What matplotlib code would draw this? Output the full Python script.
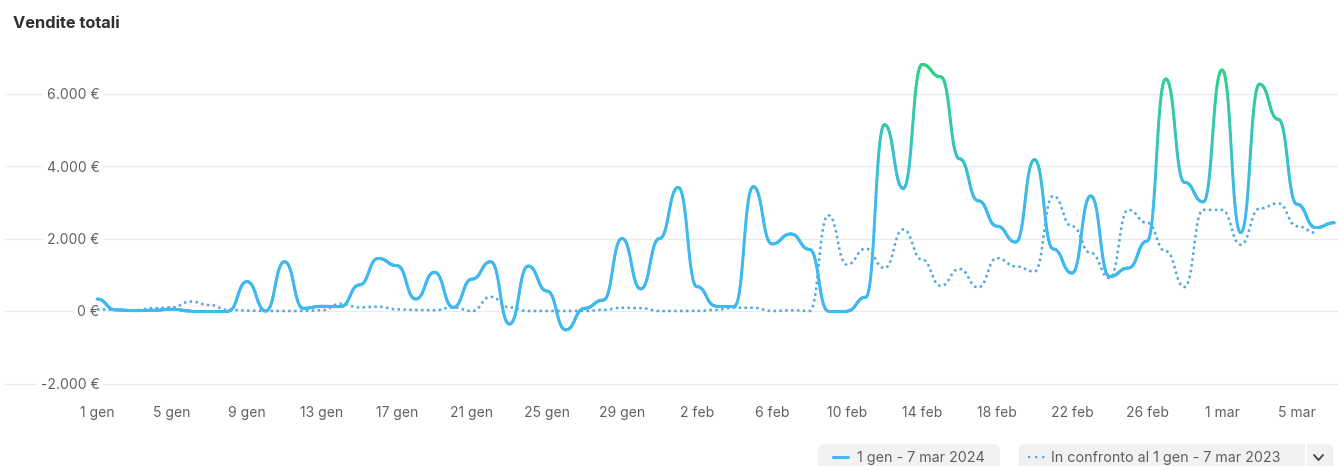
import numpy as np
import matplotlib
matplotlib.use('Agg')
import matplotlib.pyplot as plt
from matplotlib.collections import LineCollection
from matplotlib.patches import FancyBboxPatch

plt.rcParams['font.family'] = ['Inter', 'DejaVu Sans']

# daily total sales, 1 gen - 7 mar 2024 (67 days)
sales_2024 = [330, 30, 10, 20, 50, 0, 0, 0, 810, 0,
              1360, 75, 130, 120, 720, 1450, 1250, 330, 1070, 100,
              880, 1360, -360, 1240, 550, -520, 75, 300, 2000, 610,
              2000, 3410, 670, 140, 140, 3430, 1850, 2125, 1700, 0,
              0, 380, 5140, 3380, 6800, 6460, 4200, 3040, 2340, 1900,
              4175, 1710, 1045, 3175, 950, 1185, 1925, 6400, 3550, 3010,
              6650, 2160, 6260, 5290, 2945, 2300, 2435]

# comparison period, 1 gen - 7 mar 2023 (66 days)
sales_2023 = [46, 30, 20, 75, 100, 260, 165, 30, 10, 0,
              0, 0, 20, 200, 100, 120, 46, 30, 20, 100,
              0, 390, 100, 0, 0, 0, 0, 30, 90, 80,
              0, 0, 0, 30, 90, 90, 0, 20, 0, 2640,
              1280, 1720, 1185, 2250, 1420, 695, 1160, 650, 1460, 1230,
              1090, 3175, 2340, 1600, 910, 2790, 2435, 1650, 660, 2790,
              2790, 1830, 2825, 2970, 2340, 2160]

x_ticks = list(range(0, 67, 4))
x_labels = ['1 gen', '5 gen', '9 gen', '13 gen', '17 gen', '21 gen', '25 gen', '29 gen',
            '2 feb', '6 feb', '10 feb', '14 feb', '18 feb', '22 feb', '26 feb', '1 mar', '5 mar']
y_ticks = [-2000, 0, 2000, 4000, 6000]
y_labels = ['-2.000 €', '0 €', '2.000 €', '4.000 €', '6.000 €']


def bump_x(vals, steps=40):
    # horizontal tangent at every point, like d3.curveBumpX
    y = np.asarray(vals, dtype=float)
    t = np.linspace(0, 1, steps, endpoint=False)
    bx = 1.5 * t - 1.5 * t**2 + t**3
    by = 3 * t**2 - 2 * t**3
    xs, ys = [], []
    for i in range(len(y) - 1):
        xs.append(i + bx)
        ys.append(y[i] + (y[i + 1] - y[i]) * by)
    xs.append([len(y) - 1])
    ys.append([y[-1]])
    return np.concatenate(xs), np.concatenate(ys)


fig = plt.figure(figsize=(13.38, 4.66), dpi=100)
W, H = 1338, 466
ax = fig.add_axes([5 / W, (H - 400) / H, 1333 / W, 360 / H])

px = 2000 / 72.5
ax.set_xlim(-(97 - 5) / 18.75, 66 + (W - 1334.5) / 18.75)
ax.set_ylim(-(400 - 311) * px, (311 - 40) * px)

# comparison (dotted)
cx, cy = bump_x(sales_2023)
ax.plot(cx, cy, color='#4aa8e6', lw=1.8, linestyle=(0, (1, 1.35)),
        dash_capstyle='butt', zorder=2)

# current period (gradient blue -> green)
sx, sy = bump_x(sales_2024)
pts = np.column_stack([sx, sy]).reshape(-1, 1, 2)
segs = np.concatenate([pts[:-1], pts[1:]], axis=1)
mid = (sy[:-1] + sy[1:]) / 2
f = np.clip((mid - 2800) / (6600 - 2800), 0, 1)[:, None]
blue = np.array([0.25, 0.72, 0.94])
green = np.array([0.18, 0.82, 0.54])
cols = blue * (1 - f) + green * f
lc = LineCollection(segs, colors=cols, linewidths=2.1, capstyle='round', joinstyle='round', zorder=3)
ax.add_collection(lc)

for sp in ax.spines.values():
    sp.set_visible(False)
ax.set_yticks(y_ticks)
ax.set_yticklabels(y_labels)
ax.set_xticks(x_ticks)
ax.set_xticklabels(x_labels)
ax.grid(axis='y', color='#ebebeb', lw=1)
ax.tick_params(axis='y', length=0, pad=-68, labelsize=10, labelcolor='#616161')
ax.tick_params(axis='x', length=0, pad=4, labelsize=10, labelcolor='#616161')
for lbl in ax.get_yticklabels():
    lbl.set_horizontalalignment('right')
    lbl.set_bbox(dict(facecolor='white', edgecolor='none', pad=2.5))

fig.text(13 / W, 1 - 24 / H, 'Vendite totali', fontsize=11.8, fontweight='bold',
         color='#303030', va='center', ha='left')

# legend buttons at the bottom
lg = fig.add_axes([0, 0, 1, 1], zorder=5)
lg.set_xlim(0, W)
lg.set_ylim(H, 0)
lg.axis('off')
lg.add_patch(FancyBboxPatch((818, 444), 182, 40, boxstyle='round,pad=0,rounding_size=7',
                            facecolor='#f2f2f2', edgecolor='none'))
lg.add_patch(FancyBboxPatch((1019, 444), 314, 40, boxstyle='round,pad=0,rounding_size=7',
                            facecolor='#f2f2f2', edgecolor='none'))
lg.plot([1305.5, 1305.5], [444, 466], color='white', lw=1.5)
lg.plot([833, 848], [457, 457], color='#40b8f0', lw=2.2, solid_capstyle='round')
lg.plot([1028, 1046], [457, 457], color='#4aa8e6', lw=1.6, linestyle=(0, (1, 2.2)))
lg.text(857, 458, '1 gen - 7 mar 2024', fontsize=10.3, color='#5c5f62', va='center', ha='left')
lg.text(1051, 458, 'In confronto al 1 gen - 7 mar 2023', fontsize=10.3, color='#5c5f62',
        va='center', ha='left')
lg.plot([1314, 1318.5, 1323], [455, 460, 455], color='#4a4a4a', lw=1.4,
        solid_capstyle='round', solid_joinstyle='round')

fig.savefig('out.png', dpi=100)
